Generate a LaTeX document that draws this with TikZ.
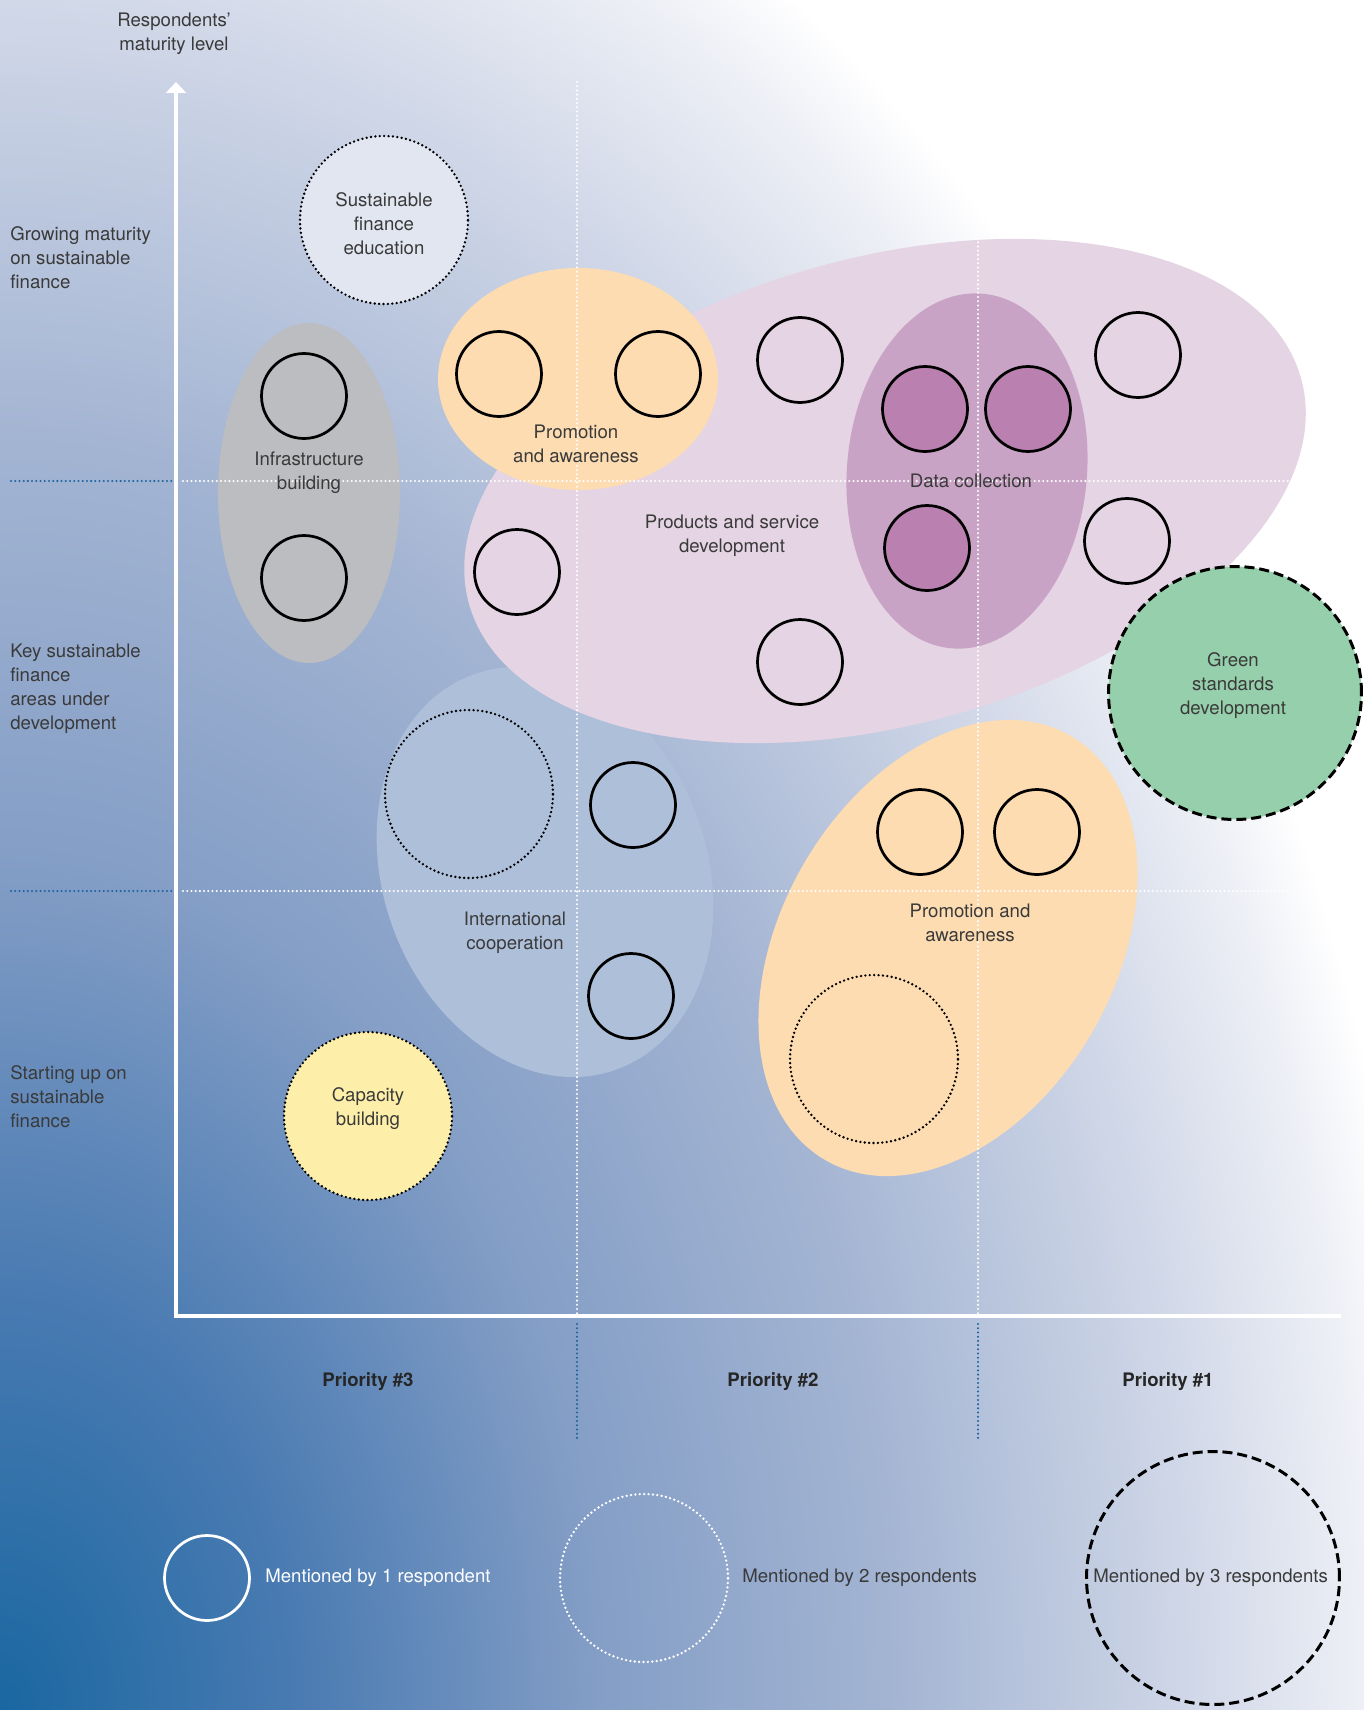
\documentclass[tikz,border=0pt]{standalone}
\usepackage{fontspec}
\setmainfont{TeX Gyre Heros}
\usetikzlibrary{arrows.meta}

\definecolor{bgA}{HTML}{1A67A1}
\definecolor{bgB}{HTML}{4A7BB2}
\definecolor{bgC}{HTML}{849EC6}
\definecolor{bgD}{HTML}{A4B5D3}
\definecolor{bgE}{HTML}{D1D8E8}
\definecolor{bgF}{HTML}{EEF0F6}
\definecolor{inkgray}{HTML}{3A3A3A}
\definecolor{pinkbg}{HTML}{E5D4E3}
\definecolor{datapurple}{HTML}{C9A3C5}
\definecolor{dotpurple}{HTML}{B980B0}
\definecolor{peach}{HTML}{FDDCB2}
\definecolor{infragray}{HTML}{BCBDC1}
\definecolor{coopblue}{HTML}{AEBFDA}
\definecolor{greenfill}{HTML}{96CFAB}
\definecolor{yellowfill}{HTML}{FDEEAA}
\definecolor{edufill}{HTML}{E2E6F1}
\definecolor{gridblue}{HTML}{1F63A0}

% the middle 50bp of the shading is fitted to the path
\pgfdeclareradialshading{backdrop}{\pgfpointorigin}{color(0bp)=(bgA); color(5.2bp)=(bgB); color(10.4bp)=(bgC); color(15.6bp)=(bgD); color(20.8bp)=(bgE); color(23.7bp)=(bgF); color(25bp)=(white); color(50bp)=(white)}

\tikzset{
  once/.style={circle, draw=black, line width=1.55pt, minimum size=1.7cm},
  twice/.style={circle, draw=black, line width=1.5pt, line cap=round, dash pattern=on 0pt off 2.5pt, minimum size=3.36cm},
  thrice/.style={circle, draw=black, line width=1.7pt, dash pattern=on 5.7pt off 2.8pt, minimum size=5.06cm},
  gridline/.style={draw=white, line width=1.3pt, line cap=round, dash pattern=on 0pt off 2.4pt},
  bluegrid/.style={gridline, draw=gridblue},
  tag/.style={align=center}
}

\begin{document}
\begin{tikzpicture}[x=0.02cm, y=-0.02cm,
  every node/.style={font=\fontsize{10.6}{13.66}\selectfont, text=inkgray, inner sep=0pt}]
\useasboundingbox (0,0) rectangle (1364,1710);

% backdrop
\begin{scope}
\clip (0,0) rectangle (1364,1710);
\fill[white] (0,0) rectangle (1364,1710);
\shade[shading=backdrop] (-1440,-342) rectangle (1440,3762);
\end{scope}

% areas
\fill[coopblue, rotate around={20:(545,872)}] (545,872) ellipse [x radius=162, y radius=210];
\fill[pinkbg, rotate around={15:(885,491)}] (885,491) ellipse [x radius=431, y radius=234];
\fill[datapurple, rotate around={-5:(967,471)}] (967,471) ellipse [x radius=120, y radius=178];
\fill[peach] (578,379) ellipse [x radius=140, y radius=111];
\fill[infragray] (309,493) ellipse [x radius=91, y radius=170];
\fill[peach, rotate around={-30:(948,948)}] (948,948) ellipse [x radius=167, y radius=245];

% one respondent
\node[once] (infra1) at (304,396) {};
\node[once] (infra2) at (304,578) {};
\node[once] (promo1) at (499,374) {};
\node[once] (promo2) at (658,374) {};
\node[once] (prod1) at (800,360) {};
\node[once] (prod2) at (1138,355) {};
\node[once] (prod3) at (517,572) {};
\node[once] (prod4) at (1127,541) {};
\node[once] (prod5) at (800,662) {};
\node[once, fill=dotpurple] (data1) at (925,409) {};
\node[once, fill=dotpurple] (data2) at (1028,409) {};
\node[once, fill=dotpurple] (data3) at (927,548) {};
\node[once] (coop1) at (633,805) {};
\node[once] (coop2) at (631,996) {};
\node[once] (aware1) at (920,832) {};
\node[once] (aware2) at (1037,832) {};

% two and three respondents
\node[twice] (coop3) at (469,794) {};
\node[twice] (aware3) at (874,1059) {};
\node[twice, fill=edufill] (edu) at (384,220) {};
\node[twice, fill=yellowfill] (capacity) at (368,1116) {};
\node[thrice, fill=greenfill] (green) at (1235,693) {};

% grid
\draw[gridline] (577,82) -- (577,1316);
\draw[gridline] (978,82) -- (978,1316);
\draw[gridline] (183,481) -- (1298,481);
\draw[gridline] (183,891) -- (1298,891);
\draw[bluegrid] (11,481) -- (172,481);
\draw[bluegrid] (11,891) -- (172,891);
\draw[bluegrid] (577,1324) -- (577,1440);
\draw[bluegrid] (978,1324) -- (978,1440);

% axes
\draw[white, line width=1.9pt, {Triangle[width=0.4cm,length=0.22cm]}-] (176,82) -- (176,1316) -- (1341,1316);

% area labels
\node[tag] (eduT) at (384,224) {Sustainable\\finance\\education};
\node[tag] (capacityT) at (368,1109) {Capacity\\building};
\node[tag] (greenT) at (1233,686) {Green\\standards\\development};
\node[tag] (infraT) at (309,473) {Infrastructure\\building};
\node[tag] (promoT) at (576,444) {Promotion\\and awareness};
\node[tag] (prodT) at (732,536) {Products and service\\development};
\node (dataT) at (971,481) {Data collection};
\node[tag] (coopT) at (515,933) {International\\cooperation};
\node[tag] (awareT) at (970,923) {Promotion and\\awareness};

% axis labels
\node[tag] (yaxis) at (174,34) {Respondents’\\maturity level};
\node[anchor=west, align=left] (grow) at (10,258) {Growing maturity\\on sustainable\\finance};
\node[anchor=west, align=left] (key) at (10,689) {Key sustainable\\finance\\areas under\\development};
\node[anchor=west, align=left] (start) at (10,1097) {Starting up on\\sustainable\\finance};
\node[font=\fontsize{10.6}{13.66}\selectfont\bfseries, text=black!85] (p3) at (368,1382) {Priority \#3};
\node[font=\fontsize{10.6}{13.66}\selectfont\bfseries, text=black!85] (p2) at (773,1382) {Priority \#2};
\node[font=\fontsize{10.6}{13.66}\selectfont\bfseries, text=black!85] (p1) at (1168,1382) {Priority \#1};

% legend
\node[once, draw=white] (leg1) at (207,1578) {};
\node[twice, draw=white] (leg2) at (644,1578) {};
\node[thrice] (leg3) at (1213,1578) {};
\node[anchor=west, text=white] (leg1T) at (265,1578) {Mentioned by 1 respondent};
\node[anchor=west] (leg2T) at (742,1578) {Mentioned by 2 respondents};
\node[anchor=west] (leg3T) at (1093,1578) {Mentioned by 3 respondents};
\end{tikzpicture}
\end{document}
